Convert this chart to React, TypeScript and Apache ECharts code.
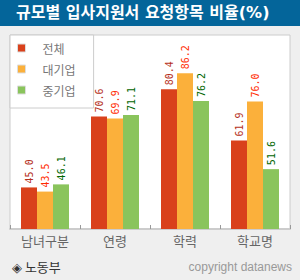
import React, { useEffect, useRef } from "react";
import * as echarts from "echarts";

const categories = ["남녀구분", "연령", "학력", "학교명"];
const seriesNames = ["전체", "대기업", "중기업"];
const totalValues = [45.0, 70.6, 80.4, 61.9];
const largeValues = [43.5, 69.9, 86.2, 76.0];
const smeValues = [46.1, 71.1, 76.2, 51.6];
const barColors = ["#d9411b", "#fbb03b", "#8ac45c"];
const labelColors = ["#b5301b", "#ff2a00", "#006600"];
const titleText = "규모별 입사지원서 요청항목 비율(%)";
const sourceText = "◈ 노동부";
const copyrightText = "copyright datanews";

export default function App() {
  const ref = useRef<HTMLDivElement>(null);
  useEffect(() => {
    if (!ref.current) return;
    const chart = echarts.init(ref.current, null, { renderer: "svg" });
    const data = [totalValues, largeValues, smeValues];
    chart.setOption({
      animation: false,
      backgroundColor: "#efefef",
      graphic: [
        { type: "rect", left: 0, top: 0, shape: { width: 300, height: 26 }, style: { fill: "#04659a" } },
        {
          type: "text", left: 16, top: 4,
          style: { text: titleText, fill: "#fff", font: "bold 16px 'DejaVu Sans', 'Noto Sans CJK KR'" },
        },
        {
          type: "text", left: 12, top: 260,
          style: { text: sourceText, fill: "#333", font: "13px 'Noto Sans CJK KR'" },
        },
        {
          type: "text", right: 8, top: 261,
          style: { text: copyrightText, fill: "#999", font: "12px 'Liberation Sans'" },
        },
      ],
      legend: {
        left: 10, top: 35, orient: "vertical",
        backgroundColor: "#fff", borderColor: "#ccc", borderWidth: 1,
        padding: [6, 18, 11, 7],
        itemWidth: 8, itemHeight: 8, itemGap: 7,
        data: seriesNames.map((n) => ({ name: n, icon: "rect" })),
        textStyle: { color: "#777", fontSize: 12, fontFamily: "Noto Sans CJK KR", lineHeight: 14, padding: [0, 0, 0, 12] },
        itemStyle: { borderColor: "#ddd", borderWidth: 1 },
      },
      grid: {
        left: 10, right: 10, top: 35, bottom: 51, show: true,
        backgroundColor: "#fff", borderColor: "#ccc", borderWidth: 1,
      },
      xAxis: {
        type: "category", data: categories,
        axisLine: { lineStyle: { color: "#ccc", width: 2 } },
        axisTick: { show: true, inside: true, length: 4, lineStyle: { color: "#999" } },
        axisLabel: { color: "#666", fontSize: 13, fontFamily: "Noto Sans CJK KR", margin: 5 },
      },
      yAxis: { type: "value", min: 30, max: 100, show: false, splitLine: { show: false } },
      series: seriesNames.map((n, i) => ({
        name: n, type: "bar", data: data[i], barWidth: 16, barGap: "0%",
        itemStyle: { color: barColors[i] },
        label: {
          show: true, position: "top", rotate: 90, align: "left", verticalAlign: "middle",
          distance: 4, color: labelColors[i], fontSize: 10, fontFamily: "DejaVu Sans Mono",
          formatter: (p: any) => p.value.toFixed(1),
        },
      })),
    });
    return () => chart.dispose();
  }, []);
  return <div ref={ref} style={{ position: "absolute", left: 0, top: 0, width: 300, height: 280 }} />;
}
